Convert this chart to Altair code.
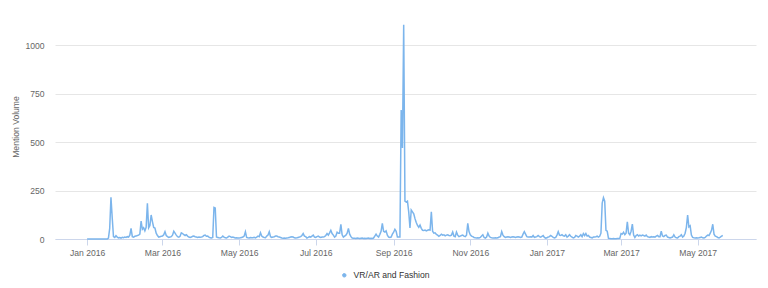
import altair as alt
import pandas as pd

series_name = "VR/AR and Fashion"

# daily mention volume
jan16 = [0] * 17 + [5, 55, 215, 110, 12, 8, 17, 10, 6, 8, 5, 9, 7, 10]
feb16 = [8, 12, 10, 20, 55, 12, 10, 14, 15, 18, 20, 25, 92, 50, 58, 42, 60, 184, 58, 70,
         124, 90, 60, 57, 30, 18, 10, 12, 14]
mar16 = [15, 22, 38, 18, 12, 8, 10, 12, 20, 40, 30, 20, 12, 10, 14, 32, 28, 22, 18, 22,
         15, 10, 8, 10, 14, 15, 12, 10, 8, 10, 9]
apr16 = [10, 12, 18, 20, 14, 15, 10, 6, 5, 8, 163, 160, 10, 8, 6, 5, 8, 15, 10, 6,
         5, 10, 15, 12, 8, 10, 8, 5, 6, 5]
may16 = [5, 6, 8, 10, 15, 37, 8, 6, 5, 8, 6, 7, 9, 6, 10, 15, 12, 32, 15, 10,
         8, 7, 15, 20, 37, 12, 8, 10, 12, 15, 15]
jun16 = [12, 10, 8, 5, 4, 5, 4, 5, 6, 8, 10, 12, 10, 6, 5, 6, 8, 10, 12, 18,
         28, 15, 12, 5, 8, 12, 10, 15, 20, 10]
jul16 = [8, 12, 15, 10, 8, 10, 10, 12, 18, 28, 20, 32, 45, 28, 20, 10, 15, 35, 30, 30,
         76, 22, 10, 15, 20, 30, 55, 25, 12, 5, 4]
aug16 = [4, 3, 5, 4, 3, 4, 5, 3, 4, 3, 4, 5, 3, 4, 3, 5, 15, 25, 15, 10,
         24, 40, 81, 40, 36, 42, 20, 10, 8, 10, 25]
sep16 = [35, 50, 40, 10, 10, 10, 665, 470, 1105, 195, 190, 195, 140, 57, 150, 140, 130, 105, 85, 70,
         60, 72, 55, 45, 44, 46, 42, 45, 48, 46]
oct16 = [140, 40, 30, 32, 24, 20, 14, 18, 25, 20, 22, 16, 20, 22, 18, 17, 20, 36, 15, 12,
         36, 20, 12, 15, 18, 20, 15, 12, 20, 81, 38]
nov16 = [22, 15, 12, 8, 6, 5, 6, 5, 8, 15, 22, 8, 5, 10, 30, 15, 8, 6, 5, 5,
         6, 5, 6, 10, 12, 38, 20, 12, 8, 10]
dec16 = [12, 10, 8, 10, 12, 10, 8, 10, 12, 10, 8, 10, 25, 38, 25, 12, 10, 10, 12, 10,
         18, 8, 10, 12, 18, 12, 10, 14, 18, 8, 4]
jan17 = [6, 10, 12, 18, 14, 8, 5, 8, 20, 38, 20, 18, 22, 16, 15, 22, 10, 15, 22, 14,
         10, 6, 8, 18, 15, 10, 15, 22, 12, 28, 18]
feb17 = [28, 15, 18, 10, 8, 6, 10, 10, 12, 15, 10, 14, 30, 185, 213, 195, 45, 40, 3, 2,
         1, 1, 2, 1, 1, 2, 2, 3]
mar17 = [28, 25, 35, 22, 30, 89, 30, 22, 40, 77, 20, 8, 18, 22, 15, 20, 16, 20, 18, 15,
         20, 12, 10, 8, 12, 10, 12, 10, 15, 18, 12]
apr17 = [12, 40, 15, 12, 18, 20, 10, 8, 5, 8, 10, 22, 10, 6, 5, 12, 15, 22, 10, 15,
         30, 60, 124, 62, 68, 20, 8, 6, 5, 6]
may17 = [5, 6, 8, 10, 6, 5, 8, 15, 20, 18, 30, 45, 76, 25, 15, 12, 8, 6, 10, 15, 18]

x_tick_months = [(2016, 1), (2016, 3), (2016, 5), (2016, 7), (2016, 9), (2016, 11),
                 (2017, 1), (2017, 3), (2017, 5)]
y_ticks = [0, 250, 500, 750, 1000]

values = (jan16 + feb16 + mar16 + apr16 + may16 + jun16 + jul16 + aug16 + sep16 +
          oct16 + nov16 + dec16 + jan17 + feb17 + mar17 + apr17 + may17)
dates = pd.date_range("2016-01-01", periods=len(values), freq="D").strftime("%Y-%m-%d").tolist()
df = pd.DataFrame({"date": dates, "volume": values, "series": series_name})

FONT = "Liberation Sans"

x_axis = alt.Axis(
    title=None,
    values=[alt.DateTime(year=y, month=m, date=1, utc=True) for y, m in x_tick_months],
    labelExpr="utcFormat(datum.value, '%b %Y')",
    grid=False,
    domainColor="#ccd6eb",
    tickColor="#ccd6eb",
    tickSize=6,
    labelColor="#666666",
    labelFontSize=8.6,
    labelPadding=3,
    labelFont=FONT,
)

y_axis = alt.Axis(
    title="Mention Volume",
    values=y_ticks,
    format="d",
    grid=True,
    gridColor="#e6e6e6",
    domain=False,
    ticks=False,
    labelColor="#666666",
    labelFontSize=8.6,
    labelPadding=11,
    labelFont=FONT,
    titleColor="#666666",
    titleFontSize=8.6,
    titleFontWeight="normal",
    titleFont=FONT,
    titleX=-40,
    titleY=106.5,
    titleAngle=270,
    titleAlign="center",
    titleBaseline="middle",
)

chart = alt.Chart(df).mark_line(strokeWidth=1.5, interpolate="linear").encode(
    x=alt.X(
        "date:T",
        scale=alt.Scale(
            type="utc",
            domain=[
                alt.DateTime(year=2015, month=12, date=6, hours=11, utc=True),
                alt.DateTime(year=2017, month=6, date=16, hours=10, utc=True),
            ],
            nice=False,
        ),
        axis=x_axis,
    ),
    y=alt.Y("volume:Q", scale=alt.Scale(domain=[0, 1130], nice=False), axis=y_axis),
    color=alt.Color(
        "series:N",
        scale=alt.Scale(range=["#7cb5ec"]),
        legend=alt.Legend(
            title=None,
            orient="none",
            legendX=285,
            legendY=251,
            padding=0,
            symbolType="circle",
            symbolSize=12,
            symbolFillColor="#7cb5ec",
            symbolStrokeColor="#7cb5ec",
            symbolStrokeWidth=1,
            labelFontSize=8.6,
            labelColor="#333333",
            labelFont=FONT,
            labelOffset=5,
        ),
    ),
).properties(
    width=701,
    height=219,
    autosize=alt.AutoSizeParams(type="none"),
    padding={"left": 55, "top": 20, "right": 12, "bottom": 49},
).configure(
    font=FONT,
    background="white",
    view=alt.ViewConfig(strokeWidth=0, stroke=None),
)

chart.save("out.html", embed_options={"renderer": "svg", "actions": False})
